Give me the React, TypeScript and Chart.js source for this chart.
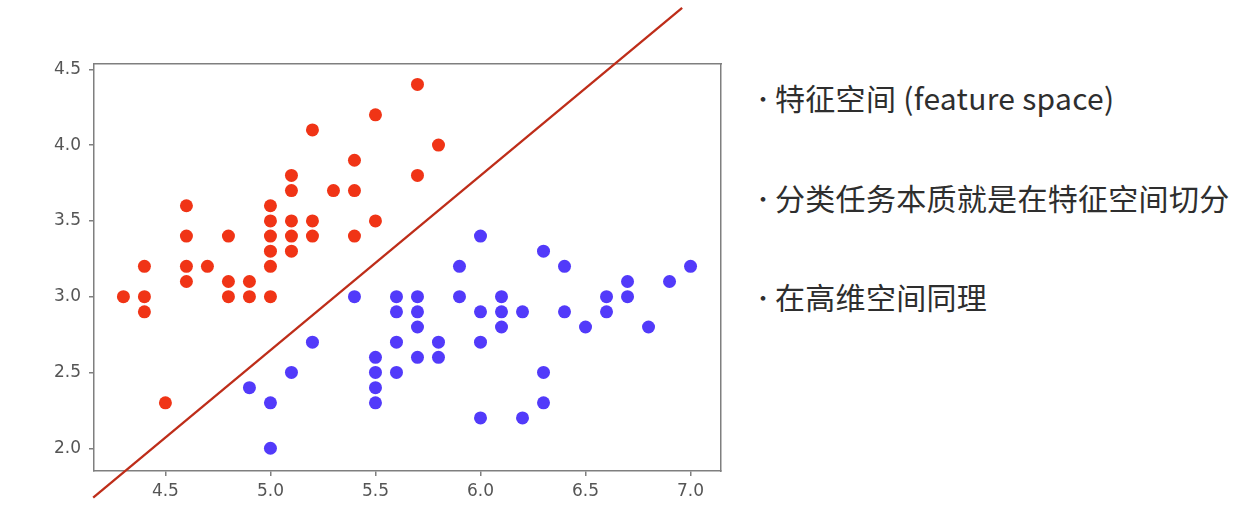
import React, { useEffect, useRef } from "react";
import { Chart, registerables } from "chart.js";

Chart.register(...registerables);

// Red class (setosa): sepal length / sepal width
const redX = [4.3, 4.4, 4.4, 4.4, 4.5, 4.6, 4.6, 4.6, 4.6, 4.7, 4.8, 4.8, 4.8, 4.9, 4.9, 5.0, 5.0, 5.0, 5.0, 5.0, 5.0, 5.1, 5.1, 5.1, 5.1, 5.1, 5.2, 5.2, 5.2, 5.3, 5.4, 5.4, 5.4, 5.5, 5.5, 5.7, 5.7, 5.8];
const redY = [3.0, 3.2, 3.0, 2.9, 2.3, 3.6, 3.4, 3.2, 3.1, 3.2, 3.4, 3.1, 3.0, 3.1, 3.0, 3.6, 3.5, 3.4, 3.3, 3.2, 3.0, 3.8, 3.7, 3.5, 3.4, 3.3, 4.1, 3.5, 3.4, 3.7, 3.9, 3.7, 3.4, 4.2, 3.5, 4.4, 3.8, 4.0];

// Blue class (versicolor)
const blueX = [4.9, 5.0, 5.0, 5.1, 5.2, 5.4, 5.5, 5.5, 5.5, 5.5, 5.6, 5.6, 5.6, 5.6, 5.7, 5.7, 5.7, 5.7, 5.8, 5.8, 5.9, 5.9, 6.0, 6.0, 6.0, 6.0, 6.1, 6.1, 6.1, 6.2, 6.2, 6.3, 6.3, 6.3, 6.4, 6.4, 6.5, 6.6, 6.6, 6.7, 6.7, 6.8, 6.9, 7.0];
const blueY = [2.4, 2.3, 2.0, 2.5, 2.7, 3.0, 2.6, 2.5, 2.4, 2.3, 3.0, 2.9, 2.7, 2.5, 3.0, 2.9, 2.8, 2.6, 2.7, 2.6, 3.2, 3.0, 3.4, 2.9, 2.7, 2.2, 3.0, 2.9, 2.8, 2.9, 2.2, 3.3, 2.5, 2.3, 3.2, 2.9, 2.8, 3.0, 2.9, 3.1, 3.0, 2.8, 3.1, 3.2];

// Decision line endpoints (data units)
const lineX = [4.156, 6.96];
const lineY = [1.674, 4.905];

const xTicks = [4.5, 5.0, 5.5, 6.0, 6.5, 7.0];
const yTicks = [2.0, 2.5, 3.0, 3.5, 4.0, 4.5];

const bullets = ["特征空间 (feature space)", "分类任务本质就是在特征空间切分", "在高维空间同理"];

const toPts = (xs: number[], ys: number[]) => xs.map((x, i) => ({ x, y: ys[i] }));

export default function App() {
  const ref = useRef<HTMLCanvasElement | null>(null);

  useEffect(() => {
    if (!ref.current) return;
    const frame = "#7f7f7f";
    const chart = new Chart(ref.current, {
      type: "scatter",
      data: {
        datasets: [
          {
            type: "line",
            data: toPts(lineX, lineY),
            borderColor: "rgb(190,45,25)",
            borderWidth: 2.3,
            pointRadius: 0,
            clip: false as any,
            fill: false,
          } as any,
          {
            data: toPts(redX, redY),
            backgroundColor: "rgb(240,52,22)",
            borderWidth: 0,
            pointRadius: 6.5,
          },
          {
            data: toPts(blueX, blueY),
            backgroundColor: "rgb(82,58,250)",
            borderWidth: 0,
            pointRadius: 6.5,
          },
        ],
      },
      options: {
        responsive: false,
        animation: false,
        layout: { padding: { left: 0, top: 64, right: 19, bottom: 0 } },
        plugins: { legend: { display: false }, tooltip: { enabled: false } },
        scales: {
          x: {
            type: "linear",
            position: "bottom",
            min: 4.16,
            max: 7.145,
            afterBuildTicks: (s: any) => {
              s.ticks = xTicks.map((v) => ({ value: v }));
            },
            afterFit: (s: any) => {
              s.height = 40;
            },
            ticks: {
              color: "#555",
              font: { family: "'DejaVu Sans'", size: 17 },
              padding: 5,
              maxRotation: 0,
              callback: (v: any) => Number(v).toFixed(1),
            },
            grid: { drawOnChartArea: false, drawTicks: true, tickLength: 5, color: frame, lineWidth: 1.5 },
            border: { display: true, color: frame, width: 1.5 },
          },
          y: {
            type: "linear",
            position: "left",
            min: 1.85,
            max: 4.535,
            afterBuildTicks: (s: any) => {
              s.ticks = yTicks.map((v) => ({ value: v }));
            },
            afterFit: (s: any) => {
              s.width = 94;
            },
            ticks: {
              color: "#555",
              font: { family: "'DejaVu Sans'", size: 17 },
              padding: 8,
              callback: (v: any) => Number(v).toFixed(1),
            },
            grid: { drawOnChartArea: false, drawTicks: true, tickLength: 5, color: frame, lineWidth: 1.5 },
            border: { display: true, color: frame, width: 1.5 },
          },
          x2: {
            type: "linear",
            position: "top",
            min: 4.16,
            max: 7.145,
            afterFit: (s: any) => {
              s.height = 0;
            },
            ticks: { display: false },
            grid: { display: false },
            border: { display: true, color: frame, width: 1.5 },
          },
          y2: {
            type: "linear",
            position: "right",
            min: 1.85,
            max: 4.535,
            afterFit: (s: any) => {
              s.width = 0;
            },
            ticks: { display: false },
            grid: { display: false },
            border: { display: true, color: frame, width: 1.5 },
          },
        },
      } as any,
    });
    return () => chart.destroy();
  }, []);

  const tops = [77, 177, 276];

  return (
    <div style={{ position: "absolute", left: 0, top: 0, width: 1240, height: 511, background: "#fff", overflow: "hidden" }}>
      <canvas ref={ref} width={740} height={511} style={{ position: "absolute", left: 0, top: 0, width: 740, height: 511 }} />
      {bullets.map((t, i) => (
        <div key={i} style={{ position: "absolute", left: 751, top: tops[i], height: 40, lineHeight: "40px", whiteSpace: "nowrap", color: "#2e2e2e", fontFamily: "'Noto Sans CJK SC', 'Noto Sans', sans-serif" }}>
          <span style={{ display: "inline-block", width: 24, fontSize: 22, textAlign: "center", verticalAlign: "top" }}>•</span>
          <span style={{ fontSize: 30, verticalAlign: "top", letterSpacing: 0.3 }}>{t}</span>
        </div>
      ))}
    </div>
  );
}
